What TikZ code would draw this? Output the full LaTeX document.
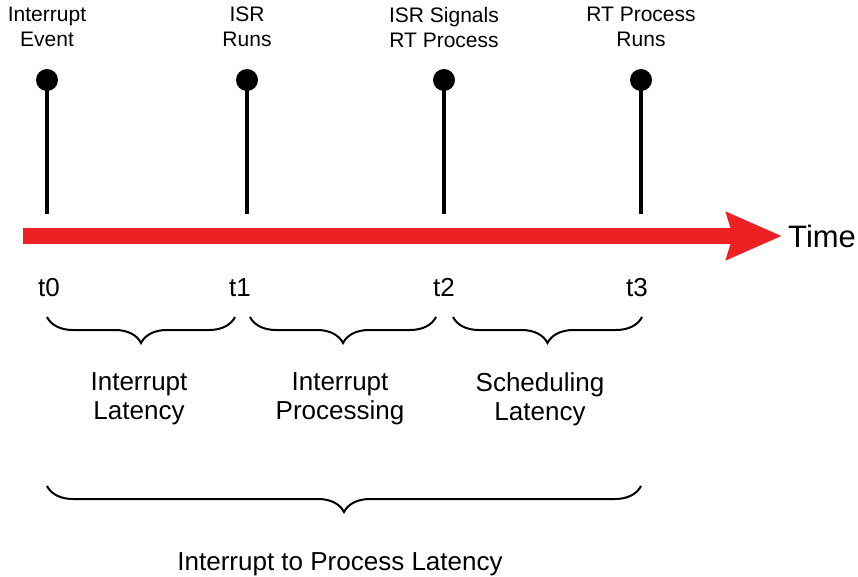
\documentclass[tikz,border=0pt]{standalone}
\usepackage{fontspec}
\setmainfont{Liberation Sans}
\usepackage{tikz}
\usetikzlibrary{arrows.meta, positioning, decorations.pathreplacing}
\definecolor{tlred}{RGB}{237,32,36}

\begin{document}
\begin{tikzpicture}[
        x=1pt, y=-1pt,
        event/.style={circle, fill=black, inner sep=0pt, minimum size=22pt},
        stem/.style={line width=4pt},
        evlabel/.style={anchor=north, inner sep=0pt, align=center,
                        font=\fontsize{21}{25}\selectfont},
        tick/.style={anchor=base, inner sep=0pt, font=\fontsize{26}{30}\selectfont},
        span/.style={line width=2pt, decorate,
                     decoration={brace, mirror, amplitude=26pt}},
        spanlabel/.style={anchor=north, inner sep=0pt, align=center,
                          font=\fontsize{26}{29}\selectfont}
      ]
      \useasboundingbox (0,0) rectangle (858,577);

      % events on the time line
      \node[event] (e0) at (47,80) {};
      \node[event] (e1) at (247,80) {};
      \node[event] (e2) at (444,80) {};
      \node[event] (e3) at (641,80) {};
      \coordinate (b0) at (47,214);
      \coordinate (b1) at (247,214);
      \coordinate (b2) at (444,214);
      \coordinate (b3) at (641,214);
      \draw[stem] (e0.center) -- (b0);
      \draw[stem] (e1.center) -- (b1);
      \draw[stem] (e2.center) -- (b2);
      \draw[stem] (e3.center) -- (b3);

      \node[evlabel] (l0) at (47,7) {Interrupt\\Event};
      \node[evlabel] (l1) at (247,7) {ISR\\Runs};
      \node[evlabel] (l2) at (444,7) {ISR Signals\\RT Process};
      \node[evlabel] (l3) at (641,7) {RT Process\\Runs};

      % time axis
      \coordinate (start) at (23,236);
      \coordinate (end) at (782,236);
      \draw[line width=16pt, tlred,
            -{Stealth[length=55pt, width=46pt, inset=6pt]}] (start) -- (end);
      \node[anchor=base west, inner sep=0pt,
            font=\fontsize{31}{36}\selectfont] (time) at (788,247) {Time};

      \node[tick] (t0) at (49,296) {t0};
      \node[tick] (t1) at (240,296) {t1};
      \node[tick] (t2) at (444,296) {t2};
      \node[tick] (t3) at (637,296) {t3};

      % intervals
      \coordinate (s0) at (47,317);
      \coordinate (s1) at (235,317);
      \coordinate (s2) at (250,317);
      \coordinate (s3) at (436,317);
      \coordinate (s4) at (453,317);
      \coordinate (s5) at (642,317);
      \draw[span] (s0) -- (s1);
      \draw[span] (s2) -- (s3);
      \draw[span] (s4) -- (s5);

      \node[spanlabel] (p0) at (139,372) {Interrupt\\Latency};
      \node[spanlabel] (p1) at (340,372) {Interrupt\\Processing};
      \node[spanlabel] (p2) at (540,372) {Scheduling\\Latency};

      \coordinate (w0) at (47,486);
      \coordinate (w1) at (641,486);
      \draw[span] (w0) -- (w1);
      \node[anchor=base, inner sep=0pt,
            font=\fontsize{26}{30}\selectfont] (total) at (340,570)
        {Interrupt to Process Latency};
    \end{tikzpicture}
\end{document}
